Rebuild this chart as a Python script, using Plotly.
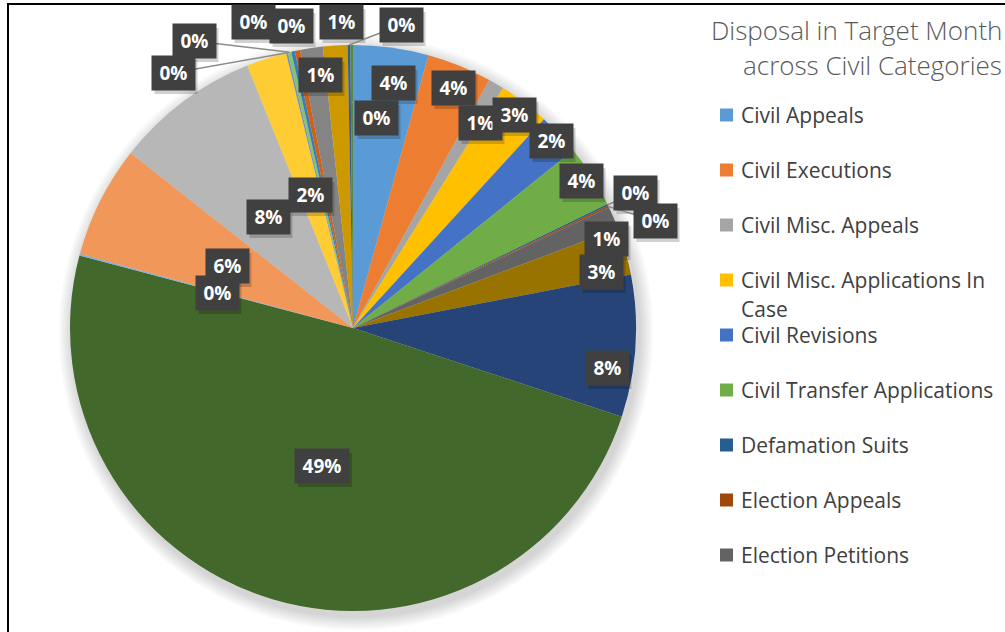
import math
import textwrap
import plotly.graph_objects as go

# ---- data -------------------------------------------------------------
categories = [
    "Civil Appeals", "Civil Executions", "Civil Misc. Appeals",
    "Civil Misc. Applications In Case", "Civil Revisions",
    "Civil Transfer Applications", "Defamation Suits", "Election Appeals",
    "Election Petitions", "Execution Petitions", "Family Appeals",
    "Family Suits", "First Appeals", "Guardian Petitions",
    "Insolvency Petitions", "Intra Court Appeals",
    "Land Acquisition References", "Miscellaneous Suits",
    "Regular First Appeals", "Regular Second Appeals", "Rent Appeals",
    "Suits for Recovery", "Tax References", "Writ Petitions",
]
disposal_share = [
    4.3, 3.7, 0.9, 2.9, 2.4, 3.6, 0.1, 0.1, 1.3, 2.7, 8.1, 49.1,
    0.1, 6.4, 8.3, 2.3, 0.1, 0.2, 0.2, 0.3, 1.3, 1.4, 0.15, 0.15,
]
colors = [
    "#5B9BD5", "#ED7D31", "#A5A5A5", "#FFC000", "#4472C4", "#70AD47",
    "#255E91", "#9E480E", "#636363", "#997300", "#264478", "#43682B",
    "#7CAFDD", "#F1975A", "#B7B7B7", "#FFCD33", "#698ED0", "#8CC168",
    "#327DC2", "#D26012", "#848484", "#CC9A00", "#335AA1", "#5A8A39",
]
legend_count = 9  # entries that fit in the legend column

# ---- layout helpers ---------------------------------------------------
W, H = 1005, 632
CX, CY, R = 353, 328, 283


def px(x):
    return x / W


def py(y):
    return 1 - y / H


# data-label box centres (pixels) and leader targets (fraction of radius)
label_xy = [
    (393, 83), (453, 88), (480, 123), (514, 115), (551, 141), (581, 181),
    (635, 193), (655, 221), (606, 239), (601, 272), (607, 368), (322, 466),
    (217, 293), (227, 266), (268, 217), (310, 195), (173, 73), (194, 41),
    (253, 22), (291, 26), (320, 75), (341, 22), (401, 25), (376, 118),
]
leaders = {6: 1.0, 7: 1.0, 16: 1.0, 17: 1.0, 22: 1.0, 23: 0.8}

total = sum(disposal_share)
pcts = [v / total for v in disposal_share]

fig = go.Figure(
    go.Pie(
        labels=categories,
        values=disposal_share,
        sort=False,
        direction="clockwise",
        rotation=0,
        marker=dict(colors=colors, line=dict(width=0)),
        textinfo="none",
        hovertemplate="%{label}: %{percent:.0%}<extra></extra>",
        showlegend=False,
        domain=dict(x=[px(CX - R), px(CX + R)], y=[py(CY + R), py(CY - R)]),
    )
)

shapes = []
annotations = []

# soft drop shadow behind the pie
for k in range(1, 8):
    rr = R + 2 * k
    ox, oy = CX + 3, CY + 5
    shapes.append(dict(
        type="circle", xref="paper", yref="paper", layer="below",
        x0=px(ox - rr), x1=px(ox + rr), y0=py(oy + rr), y1=py(oy - rr),
        fillcolor="rgba(0,0,0,0.022)", line=dict(width=0),
    ))

# chart frame lines
shapes.append(dict(type="line", xref="paper", yref="paper",
                   x0=px(7), x1=1, y0=py(4), y1=py(4),
                   line=dict(color="black", width=2)))
shapes.append(dict(type="line", xref="paper", yref="paper",
                   x0=px(8), x1=px(8), y0=py(4), y1=0,
                   line=dict(color="black", width=2)))

# data labels with leader lines and box shadows
cum = 0.0
for i, p in enumerate(pcts):
    mid = (cum + p / 2) * 2 * math.pi
    cum += p
    lx, ly = label_xy[i]
    if i in leaders:
        f = leaders[i]
        ex = CX + f * R * math.sin(mid)
        ey = CY - f * R * math.cos(mid)
        shapes.append(dict(type="line", xref="paper", yref="paper",
                           x0=px(lx), y0=py(ly), x1=px(ex), y1=py(ey),
                           line=dict(color="#8c8c8c", width=1.5)))
    text = f"{round(p * 100):d}%"
    bw = 43 if len(text) < 3 else 54
    bh = 34
    shapes.append(dict(type="rect", xref="paper", yref="paper",
                       x0=px(lx - bw / 2 + 3), x1=px(lx + bw / 2 + 3),
                       y0=py(ly + bh / 2 + 4), y1=py(ly - bh / 2 + 4),
                       fillcolor="rgba(0,0,0,0.18)", line=dict(width=0)))
    annotations.append(dict(
        x=px(lx), y=py(ly), xref="paper", yref="paper",
        xanchor="center", yanchor="middle",
        text=f"<b>{text}</b>", showarrow=False,
        width=bw, height=bh, borderpad=0, valign="middle",
        bgcolor="#404040",
        font=dict(family="Open Sans", size=19, color="white"),
    ))

# chart title
for j, line in enumerate(["Disposal in Target Month", "across Civil Categories"]):
    annotations.append(dict(
        x=px(1004), y=py(30 + 35 * j), xref="paper", yref="paper",
        xanchor="right", yanchor="middle", text=line, showarrow=False,
        font=dict(family="Open Sans", size=26, color="#595959", weight=300),
    ))

# legend column
row_y = 115
for i in range(legend_count):
    shapes.append(dict(type="rect", xref="paper", yref="paper",
                       x0=px(720), x1=px(733), y0=py(row_y + 6.5),
                       y1=py(row_y - 6.5), fillcolor=colors[i],
                       line=dict(width=0)))
    lines = textwrap.wrap(categories[i], 27)
    for j, line in enumerate(lines):
        annotations.append(dict(
            x=px(739), y=py(row_y + 29 * j), xref="paper", yref="paper",
            xanchor="left", yanchor="middle", text=line, showarrow=False,
            font=dict(family="Open Sans", size=21, color="#404040"),
        ))
    row_y += 55

fig.update_layout(
    width=W, height=H,
    margin=dict(l=0, r=0, t=0, b=0),
    paper_bgcolor="white", plot_bgcolor="white",
    shapes=shapes, annotations=annotations,
)

fig.write_html("out.html")
